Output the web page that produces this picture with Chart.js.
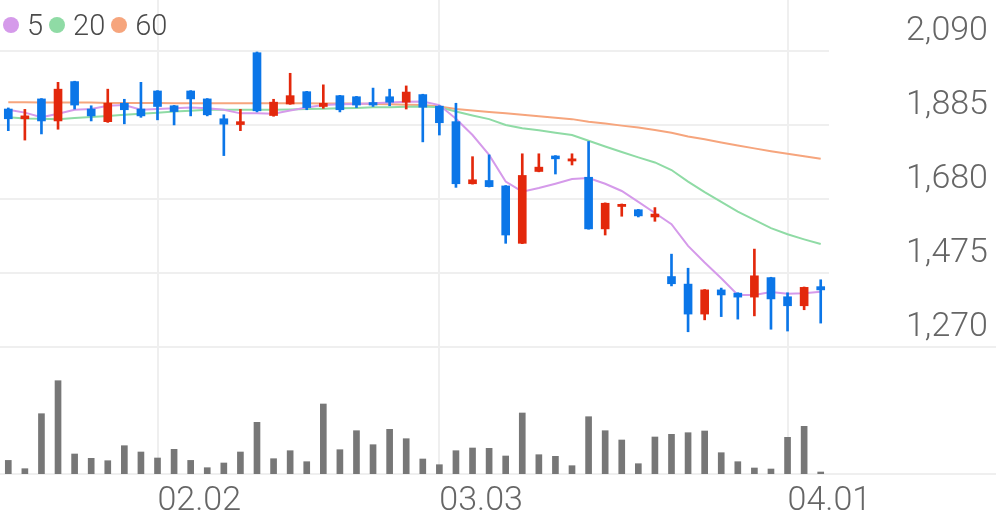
<!DOCTYPE html>
<html>
<head>
<meta charset="utf-8">
<script src="https://cdn.jsdelivr.net/npm/chart.js@4.4.1/dist/chart.umd.min.js"></script>
<style>
  body { margin: 0; background: #fff; }
  #wrap { position: relative; width: 996px; height: 519px; }
  #legend {
    position: absolute; left: 3px; top: 9px;
    display: flex; align-items: center;
    font: 300 29px Roboto, 'Noto Sans', sans-serif; color: #4a4a4a; line-height: 32px;
  }
  #legend .item { display: flex; align-items: center; margin-right: 6px; }
  #legend .dot { width: 16px; height: 16px; border-radius: 50%; margin-right: 8px; }
</style>
</head>
<body>
<div id="wrap">
  <canvas id="stock-chart"></canvas>
  <div id="legend"></div>
</div>
<script>
// trading days (MM.DD)
const dates = ['01.20', '01.21', '01.22', '01.23', '01.26', '01.27', '01.28', '01.29', '01.30',
  '02.02', '02.03', '02.04', '02.05', '02.06', '02.09', '02.10', '02.11', '02.12', '02.13',
  '02.19', '02.20', '02.23', '02.24', '02.25', '02.26', '02.27',
  '03.03', '03.04', '03.05', '03.06', '03.09', '03.10', '03.11', '03.12', '03.13',
  '03.16', '03.17', '03.18', '03.19', '03.20', '03.23', '03.24', '03.25', '03.26', '03.27',
  '03.30', '03.31', '04.01', '04.02', '04.03'];

const opens = [1929, 1902, 1957, 1896, 2005, 1929, 1894, 1945, 1929, 1979,
  1938, 1979, 1957, 1902, 1886, 2085, 1911, 1943, 1977, 1936,
  1966, 1963, 1947, 1963, 1948, 1969, 1937, 1894, 1722, 1731,
  1716, 1557, 1756, 1799, 1785, 1740, 1597, 1659, 1650, 1630,
  1465, 1444, 1361, 1428, 1419, 1408, 1462, 1409, 1384, 1437];
const highs = [1932, 1928, 1958, 2003, 2006, 1938, 1984, 1956, 2003, 1980,
  1939, 1980, 1958, 1913, 1928, 2087, 1956, 2028, 1978, 1996,
  1967, 1964, 1987, 1984, 1993, 1970, 1938, 1945, 1797, 1802,
  1717, 1805, 1805, 1800, 1805, 1839, 1669, 1666, 1651, 1656,
  1527, 1488, 1429, 1433, 1420, 1541, 1463, 1420, 1436, 1456];
const lows = [1869, 1843, 1860, 1873, 1929, 1896, 1892, 1888, 1906, 1899,
  1885, 1910, 1910, 1800, 1869, 1921, 1909, 1942, 1927, 1931,
  1921, 1933, 1936, 1938, 1929, 1838, 1857, 1712, 1721, 1713,
  1557, 1556, 1755, 1749, 1774, 1596, 1580, 1632, 1630, 1618,
  1439, 1312, 1345, 1354, 1347, 1356, 1319, 1314, 1373, 1336];
const closes = [1902, 1910, 1896, 1984, 1940, 1910, 1945, 1927, 1910, 1936,
  1922, 1957, 1913, 1887, 1894, 1924, 1948, 1966, 1933, 1945,
  1927, 1940, 1940, 1948, 1976, 1934, 1891, 1722, 1733, 1714,
  1580, 1745, 1768, 1791, 1791, 1597, 1668, 1665, 1633, 1638,
  1445, 1361, 1428, 1414, 1408, 1467, 1403, 1384, 1435, 1428];

// moving averages as drawn on the chart
const ma5 = [1927, 1919, 1906, 1916, 1927, 1929, 1938, 1940, 1927, 1929,
  1931, 1933, 1931, 1927, 1917, 1917, 1916, 1925, 1933, 1940,
  1942, 1943, 1945, 1947, 1949, 1950, 1940, 1902, 1857, 1802,
  1728, 1700, 1710, 1722, 1735, 1738, 1722, 1702, 1672, 1641,
  1610, 1550, 1504, 1460, 1414, 1414, 1422, 1417, 1419, 1423];
const ma20 = [1906, 1903, 1902, 1901, 1904, 1907, 1910, 1913, 1916, 1919,
  1922, 1924, 1927, 1927, 1927, 1927, 1927, 1928, 1929, 1930,
  1931, 1932, 1934, 1934, 1935, 1936, 1934, 1922, 1911, 1901,
  1885, 1876, 1870, 1863, 1857, 1841, 1825, 1810, 1795, 1781,
  1760, 1728, 1699, 1672, 1645, 1622, 1599, 1582, 1568, 1555];
const ma60 = [1948, 1948, 1947, 1947, 1947, 1947, 1946, 1946, 1946, 1946,
  1945, 1945, 1945, 1945, 1945, 1945, 1945, 1945, 1945, 1944,
  1944, 1944, 1943, 1942, 1941, 1940, 1936, 1929, 1925, 1921,
  1917, 1913, 1909, 1905, 1901, 1894, 1889, 1883, 1878, 1871,
  1863, 1853, 1845, 1836, 1828, 1820, 1812, 1805, 1798, 1791];

const volumes = [13600, 5300, 60300, 93300, 20000, 15700, 13300, 28300, 22000, 16000,
  24700, 13600, 6300, 11000, 22000, 51700, 15300, 23300, 12300, 70000,
  24300, 43300, 29300, 44700, 35300, 15000, 9300, 23300, 26000, 25700,
  18000, 61000, 19300, 17700, 8300, 57300, 43300, 34000, 10300, 37000,
  39700, 41300, 43000, 21300, 12300, 6000, 5000, 36700, 47700, 2000];

const priceTicks = [1270, 1475, 1680, 1885, 2090];

const UP = '#e3280c';
const DOWN = '#0b76e8';
const GRID = '#efefef';

function isMonthStart(i) {
    return i > 0 && dates[i].slice(0, 2) !== dates[i - 1].slice(0, 2);
}

const candleColors = closes.map((c, i) => c >= opens[i] ? UP : DOWN);

// full-width separator lines (price panel bottom, volume baseline)
const panelLines = {
    id: 'panelLines',
    beforeDatasetsDraw(chart) {
        const {ctx, width, chartArea, scales} = chart;
        const ys = [scales.y.getPixelForValue(priceTicks[0]), scales.vol.getPixelForValue(0)];
        ctx.save();
        ctx.strokeStyle = GRID;
        ctx.lineWidth = 2;
        ys.forEach(y => {
            ctx.beginPath();
            ctx.moveTo(chartArea.left, y);
            ctx.lineTo(width, y);
            ctx.stroke();
        });
        ctx.restore();
    }
};

Chart.defaults.font.family = "Roboto, 'Noto Sans', sans-serif";

const chart = new Chart(document.getElementById('stock-chart'), {
    type: 'bar',
    data: {
        labels: dates,
        datasets: [
            { type: 'line', label: '5', data: ma5, borderColor: '#d59aea', backgroundColor: '#d59aea',
              borderWidth: 2, pointRadius: 0, yAxisID: 'y', order: 2 },
            { type: 'line', label: '20', data: ma20, borderColor: '#8fdba5', backgroundColor: '#8fdba5',
              borderWidth: 2, pointRadius: 0, yAxisID: 'y', order: 2 },
            { type: 'line', label: '60', data: ma60, borderColor: '#f6a57d', backgroundColor: '#f6a57d',
              borderWidth: 2, pointRadius: 0, yAxisID: 'y', order: 2 },
            { label: 'body', data: opens.map((o, i) => [o, closes[i]]), backgroundColor: candleColors,
              barThickness: 8, minBarLength: 2, grouped: false, yAxisID: 'y', order: 0 },
            { label: 'wick', data: lows.map((l, i) => [l, highs[i]]), backgroundColor: candleColors,
              barThickness: 2, grouped: false, yAxisID: 'y', order: 1 },
            { label: 'volume', data: volumes, backgroundColor: '#777777',
              barThickness: 6, grouped: false, yAxisID: 'vol', order: 3 }
        ]
    },
    options: {
        responsive: true,
        maintainAspectRatio: false,
        animation: false,
        layout: { padding: 0 },
        scales: {
            x: {
                offset: true,
                grid: {
                    offset: false,
                    drawTicks: false,
                    lineWidth: 2,
                    color: ctx => isMonthStart(ctx.index) ? GRID : 'rgba(0,0,0,0)'
                },
                border: { display: false },
                ticks: {
                    autoSkip: false,
                    maxRotation: 0,
                    align: 'start',
                    padding: 7,
                    color: '#666',
                    font: { size: 34, weight: 300 },
                    callback: (v, i) => isMonthStart(i) ? dates[i] : ''
                },
                afterFit: s => { s.height = 45; s.paddingLeft = 0; s.paddingRight = 0; }
            },
            y: {
                position: 'right',
                bounds: 'data',
                min: 918,
                max: 2231,
                afterBuildTicks: s => { s.ticks = priceTicks.map(v => ({ value: v })); },
                grid: { color: GRID, lineWidth: 2, drawTicks: false },
                border: { display: false },
                ticks: {
                    crossAlign: 'near',
                    padding: 77,
                    labelOffset: -19,
                    color: '#666',
                    font: { size: 34, weight: 300 },
                    callback: v => v.toLocaleString('en-US')
                },
                afterFit: s => { s.width = 167; s.paddingTop = 0; s.paddingBottom = 0; }
            },
            vol: {
                display: false,
                min: 0,
                max: 474000
            }
        },
        plugins: {
            legend: { display: false },
            tooltip: { enabled: false }
        }
    },
    plugins: [panelLines]
});

// legend for the moving averages
const legendBox = document.getElementById('legend');
chart.data.datasets.filter(ds => ds.type === 'line').forEach(ds => {
    const item = document.createElement('span');
    item.className = 'item';
    const dot = document.createElement('span');
    dot.className = 'dot';
    dot.style.background = ds.borderColor;
    item.appendChild(dot);
    item.appendChild(document.createTextNode(ds.label));
    legendBox.appendChild(item);
});
</script>
</body>
</html>
